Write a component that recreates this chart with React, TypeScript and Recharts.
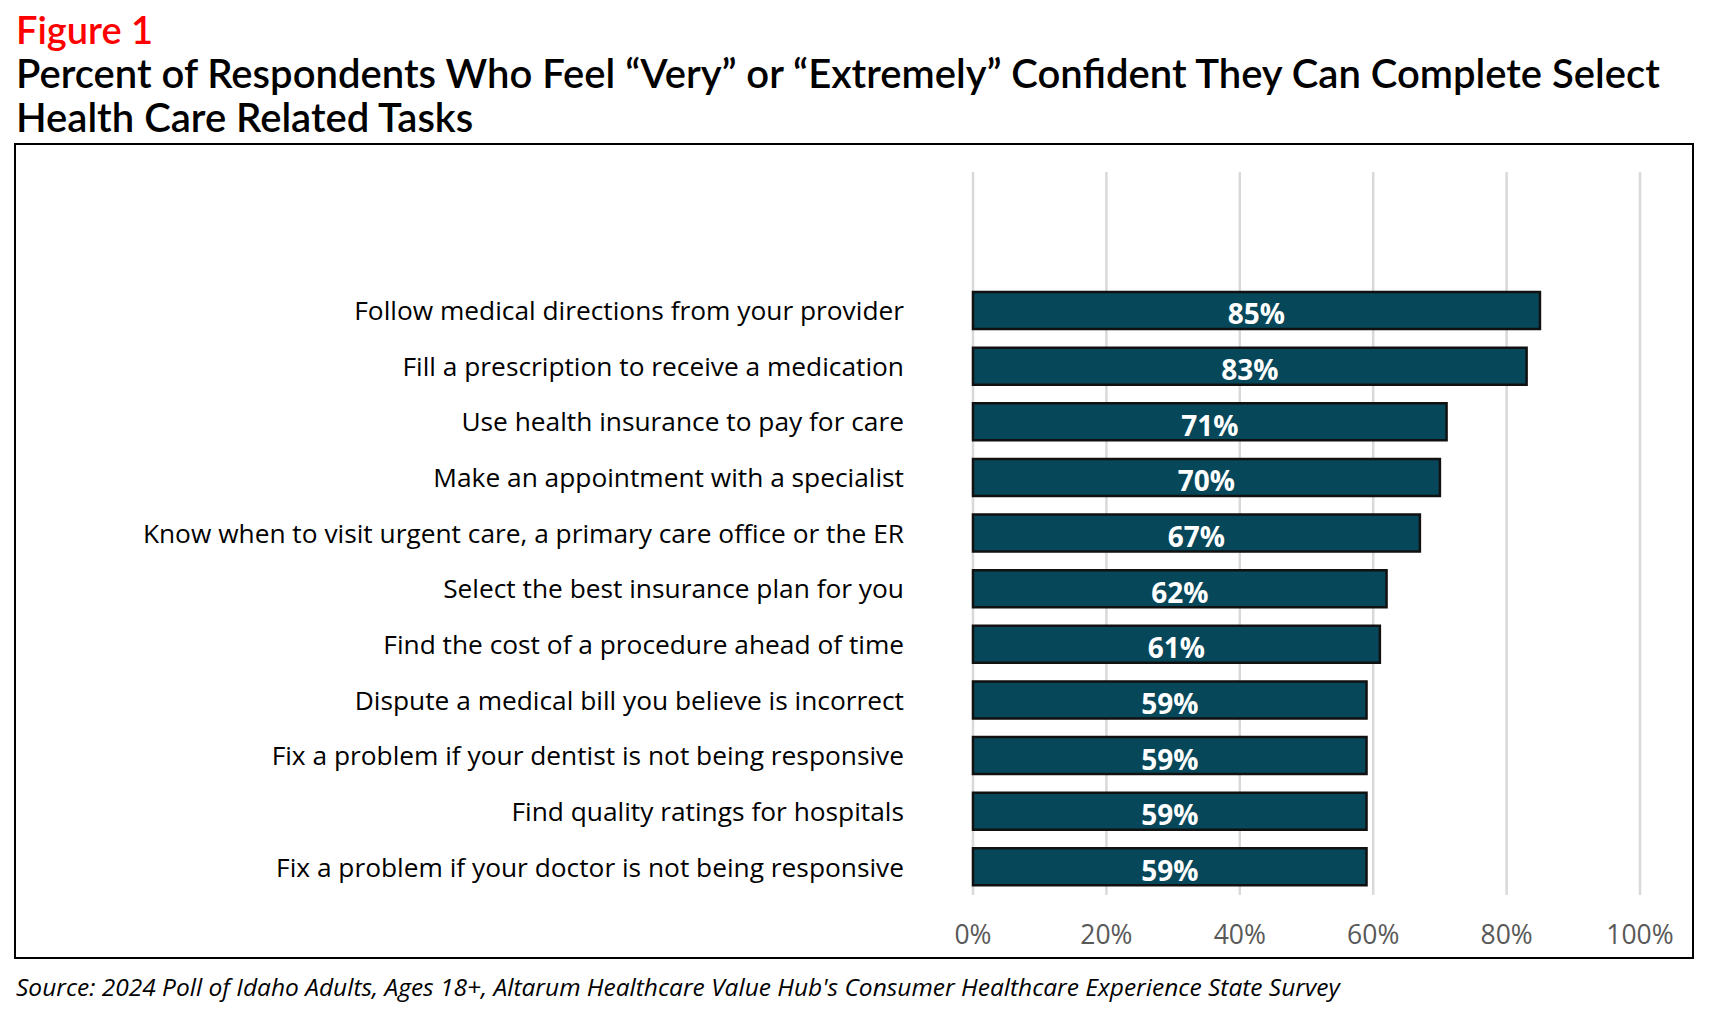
import { Bar, BarChart, CartesianGrid, LabelList, XAxis, YAxis } from "recharts";

const tasks = [
	"Follow medical directions from your provider",
	"Fill a prescription to receive a medication",
	"Use health insurance to pay for care",
	"Make an appointment with a specialist",
	"Know when to visit urgent care, a primary care office or the ER",
	"Select the best insurance plan for you",
	"Find the cost of a procedure ahead of time",
	"Dispute a medical bill you believe is incorrect",
	"Fix a problem if your dentist is not being responsive",
	"Find quality ratings for hospitals",
	"Fix a problem if your doctor is not being responsive",
];
const confident = [85, 83, 71, 70, 67, 62, 61, 59, 59, 59, 59];
const xTicks = [0, 20, 40, 60, 80, 100];

const data = tasks.map((task, i) => ({ task, value: confident[i] }));

const bodyFont = "'Open Sans', 'Noto Sans', sans-serif";
const titleFont = "Lato, 'Open Sans', sans-serif";

const App = () => {
	return (
		<div
			style={{
				position: "absolute",
				left: 0,
				top: 0,
				width: 1710,
				height: 1012,
				background: "#fff",
				overflow: "hidden",
			}}
		>
			<div
				style={{
					position: "absolute",
					left: 16,
					top: 6,
					fontFamily: titleFont,
					fontSize: 38,
					fontWeight: 600,
					color: "#ff0000",
					lineHeight: "46px",
				}}
			>
				Figure 1
			</div>
			<div
				style={{
					position: "absolute",
					left: 16,
					top: 51,
					fontFamily: titleFont,
					fontSize: 40,
					fontWeight: 600,
					color: "#000",
					lineHeight: "44px",
					whiteSpace: "nowrap",
				}}
			>
				Percent of Respondents Who Feel “Very” or “Extremely” Confident They Can Complete Select
				<br />
				Health Care Related Tasks
			</div>
			<div
				style={{
					position: "absolute",
					left: 14,
					top: 143,
					width: 1680,
					height: 816,
					boxSizing: "border-box",
					border: "2px solid #000",
				}}
			/>
			<div style={{ position: "absolute", left: 0, top: 0 }}>
				<BarChart
					width={1710}
					height={1012}
					layout="vertical"
					data={data}
					margin={{ top: 172, right: 70, left: 0, bottom: 77 }}
				>
					<CartesianGrid horizontal={false} stroke="#d9d9d9" strokeWidth={2.5} />
					<XAxis
						type="number"
						domain={[0, 100]}
						ticks={xTicks}
						tickFormatter={(v) => `${v}%`}
						axisLine={false}
						tickLine={false}
						tickSize={0}
						tickMargin={30}
						height={40}
						interval={0}
						tick={{ fill: "#595959", fontSize: 26.5, fontFamily: bodyFont }}
					/>
					<YAxis
						type="category"
						dataKey="task"
						width={973}
						axisLine={false}
						tickLine={false}
						tickSize={0}
						tickMargin={69}
						interval={0}
						padding={{ top: 111 }}
						tick={{ fill: "#000", fontSize: 26.3, fontFamily: bodyFont }}
					/>
					<Bar
						dataKey="value"
						fill="#07475a"
						stroke="#111"
						strokeWidth={2.5}
						barSize={37}
						isAnimationActive={false}
					>
						<LabelList
							dataKey="value"
							position="center"
							formatter={(v) => `${v}%`}
							fill="#fff"
							fontSize={28}
							fontWeight={700}
							fontFamily={bodyFont}
							dy={4}
						/>
					</Bar>
				</BarChart>
			</div>
			<div
				style={{
					position: "absolute",
					left: 16,
					top: 970,
					fontFamily: bodyFont,
					fontStyle: "italic",
					fontSize: 24.5,
					color: "#000",
					whiteSpace: "nowrap",
				}}
			>
				Source: 2024 Poll of Idaho Adults, Ages 18+, Altarum Healthcare Value Hub's Consumer Healthcare Experience State Survey
			</div>
		</div>
	);
};

export default App;
